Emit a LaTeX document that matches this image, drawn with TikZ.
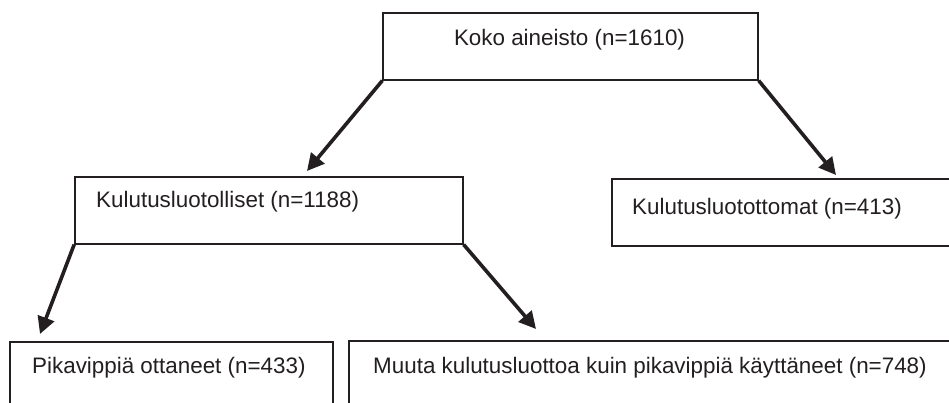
\documentclass[tikz,border=0pt]{standalone}
\usepackage{fontspec}
\setmainfont{Liberation Sans}
\usetikzlibrary{arrows.meta,calc}
\definecolor{ink}{HTML}{231F20}
\begin{document}
\begin{tikzpicture}[x=1pt,y=-1pt,
  box/.style={draw=ink,line width=2pt,rectangle,inner sep=0pt,anchor=north west},
  txt/.style={text=ink,inner sep=0pt,font=\fontsize{22.4}{26}\selectfont},
  arr/.style={draw=ink,line width=3.6pt,-{Triangle[length=17pt,width=17pt]},shorten <=-0.5pt}]
\clip (0,0) rectangle (949,402);
\fill[white] (0,0) rectangle (949,402);
% boxes
\node[box,minimum width=375pt,minimum height=67pt] (top) at (382,12) {};
\node[box,minimum width=388pt,minimum height=67pt] (lmid) at (74,176) {};
\node[box,minimum width=360pt,minimum height=67pt] (rmid) at (611,178) {};
\node[box,minimum width=323pt,minimum height=80pt] (bl) at (9,341) {};
\node[box,minimum width=620pt,minimum height=80pt] (br) at (348,340) {};
% texts
\node[txt,anchor=base] (ttop) at ($(top.north)+(-1,33)$) {Koko aineisto (n=1610)};
\node[txt,anchor=base west] (tlmid) at ($(lmid.north west)+(22,31)$) {Kulutusluotolliset (n=1188)};
\node[txt,anchor=base west] (trmid) at ($(rmid.north west)+(21,36)$) {Kulutusluotottomat (n=413)};
\node[txt,anchor=base west] (tbl) at ($(bl.north west)+(23,32)$) {Pikavippiä ottaneet (n=433)};
\node[txt,anchor=base west] (tbr) at ($(br.north west)+(25,33)$) {Muuta kulutusluottoa kuin pikavippiä käyttäneet (n=748)};
% arrow ends
\coordinate (e1) at (307,171);
\coordinate (e2) at (836,175);
\coordinate (e3) at (40,334);
\coordinate (e4) at (536,329);
% arrows
\draw[arr] (top.south west) -- (e1);
\draw[arr] (top.south east) -- (e2);
\draw[arr] (lmid.south west) -- (e3);
\draw[arr] (lmid.south east) -- (e4);
\end{tikzpicture}
\end{document}
